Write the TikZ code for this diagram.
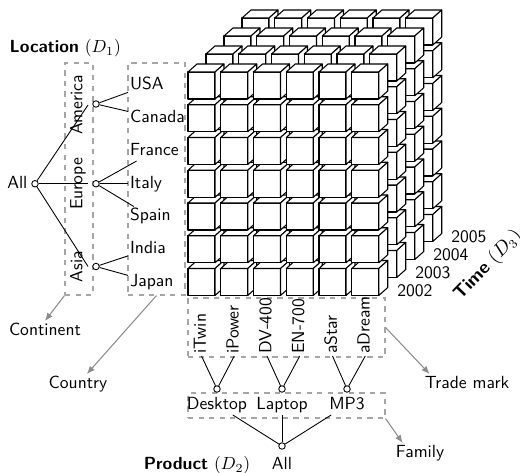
\documentclass[tikz,border=0pt]{standalone}
\usepackage{amsmath,amssymb}
\usepackage{tikz}
\usetikzlibrary{positioning}
\usetikzlibrary{arrows.meta}
\renewcommand{\familydefault}{\sfdefault}

\tikzset{
	cubeface/.style={draw,fill=white,line width=0.6pt,line join=round},
	dimbox/.style={draw=black!35,dashed,line width=0.6pt,inner sep=0pt},
	lvl/.style={inner sep=1pt,text height=7pt,text depth=2pt},
	knot/.style={circle,draw,fill=white,inner sep=0pt,minimum size=0.13cm,line width=0.5pt},
	hier/.style={line width=0.5pt},
	note/.style={-{Latex[length=1.6mm,width=1.3mm]},black!45,line width=0.6pt}
}

\begin{document}
\begin{tikzpicture}
	\useasboundingbox (0,0) rectangle (10.4,-9.44);
	
	% dashed level boxes
	\node[dimbox,minimum width=0.56cm,minimum height=4.64cm] (contbox) at (1.58,-3.58) {};
	\node[dimbox,minimum width=1.14cm,minimum height=4.64cm] (ctrybox) at (3.13,-3.58) {};
	\node[dimbox,minimum width=3.94cm,minimum height=1.18cm] (tmbox) at (5.73,-6.55) {};
	\node[dimbox,minimum width=3.94cm,minimum height=0.5cm] (fambox) at (5.73,-8.11) {};
	
	% data cube, back layer first
	\foreach \l in {3,2,1,0}
	\foreach \t in {6,...,0}
	\foreach \c in {0,...,5}{
		\pgfmathsetmacro{\px}{3.76+\c*0.655+\l*0.36}
		\pgfmathsetmacro{\py}{-1.98-\t*0.655+\l*0.36}
		\filldraw[cubeface] (\px,\py) rectangle ++(0.54,0.54);
		\filldraw[cubeface] (\px,\py+0.54) -- ++(0.18,0.16) -- ++(0.54,0) -- ++(-0.18,-0.16) -- cycle;
		\filldraw[cubeface] (\px+0.54,\py) -- ++(0.18,0.16) -- ++(0,0.54) -- ++(-0.18,-0.16) -- cycle;
	}
	
	% time axis
	\foreach \l/\yr in {0/2002,1/2003,2/2004,3/2005}
	\node[lvl,anchor=west] (y\yr) at (7.905+\l*0.36,-5.84+\l*0.36) {\yr};
	\node[rotate=46,inner sep=0pt,font=\fontsize{10.5}{12}\selectfont] (timelab) at (9.76,-5.3) {\textbf{Time} $(D_3)$};
	
	% location hierarchy
	\node[lvl,anchor=west] (loclabel) at (0.15,-0.96) {\textbf{Location} $(D_1)$};
	\node[knot] (lroot) at (0.7,-3.675) {};
	\node[lvl,left=1pt of lroot] (lall) {All};
	\node[lvl,rotate=90] (america) at (1.56,-2.1) {America};
	\node[lvl,rotate=90] (europe) at (1.56,-3.675) {Europe};
	\node[lvl,rotate=90] (asia) at (1.56,-5.33) {Asia};
	\node[knot] (camerica) at (1.92,-2.08) {};
	\node[knot] (ceurope) at (1.92,-3.675) {};
	\node[knot] (casia) at (1.92,-5.33) {};
	\foreach \t/\name/\txt in {0/usa/USA,1/canada/Canada,2/france/France,3/italy/Italy,4/spain/Spain,5/india/India,6/japan/Japan}
	\node[lvl,anchor=west] (\name) at (2.56,-1.71-\t*0.655) {\txt};
	
	\draw[hier] (lroot) -- (america.south);
	\draw[hier] (lroot) -- (europe.south);
	\draw[hier] (lroot) -- (asia.south);
	\draw[hier] (camerica) -- (usa);
	\draw[hier] (camerica) -- (canada);
	\draw[hier] (ceurope) -- (france);
	\draw[hier] (ceurope) -- (italy);
	\draw[hier] (ceurope) -- (spain);
	\draw[hier] (casia) -- (india);
	\draw[hier] (casia) -- (japan);
	
	% product hierarchy
	\foreach \c/\name/\txt in {0/itwin/iTwin,1/ipower/iPower,2/dv/DV-400,3/en/EN-700,4/astar/aStar,5/adream/aDream}
	\node[lvl,rotate=90,anchor=west] (\name) at (4.03+\c*0.655,-7.12) {\txt};
	\node[knot] (pdesk) at (4.34,-7.78) {};
	\node[knot] (plap) at (5.64,-7.78) {};
	\node[knot] (pmp) at (6.94,-7.78) {};
	\node[lvl] (desktop) at (4.34,-8.1) {Desktop};
	\node[lvl] (laptop) at (5.64,-8.1) {Laptop};
	\node[lvl] (mp3) at (6.94,-8.1) {MP3};
	\node[knot] (proot) at (5.64,-8.92) {};
	\node[lvl,below=3pt of proot] (pall) {All};
	\node[lvl,anchor=base east] (prodlabel) at ([xshift=-0.35cm]pall.base west) {\textbf{Product} $(D_2)$};
	
	\draw[hier] (pdesk) -- (itwin.west);
	\draw[hier] (pdesk) -- (ipower.west);
	\draw[hier] (plap) -- (dv.west);
	\draw[hier] (plap) -- (en.west);
	\draw[hier] (pmp) -- (astar.west);
	\draw[hier] (pmp) -- (adream.west);
	\draw[hier] (proot) -- (desktop);
	\draw[hier] (proot) -- (laptop);
	\draw[hier] (proot) -- (mp3);
	
	% level names
	\node[lvl] (contlabel) at (0.9,-6.62) {Continent};
	\node[lvl] (ctrylabel) at (1.56,-7.68) {Country};
	\node[lvl] (tmlabel) at (9.34,-7.68) {Trade mark};
	\node[lvl] (famlabel) at (8.4,-9.06) {Family};
	\draw[note] (contbox.south west) -- (contlabel.north);
	\draw[note] (ctrybox.south) -- (ctrylabel);
	\draw[note] (tmbox.east) -- (tmlabel.165);
	\draw[note] (fambox.south east) -- (famlabel.150);
	
\end{tikzpicture}
\end{document}
